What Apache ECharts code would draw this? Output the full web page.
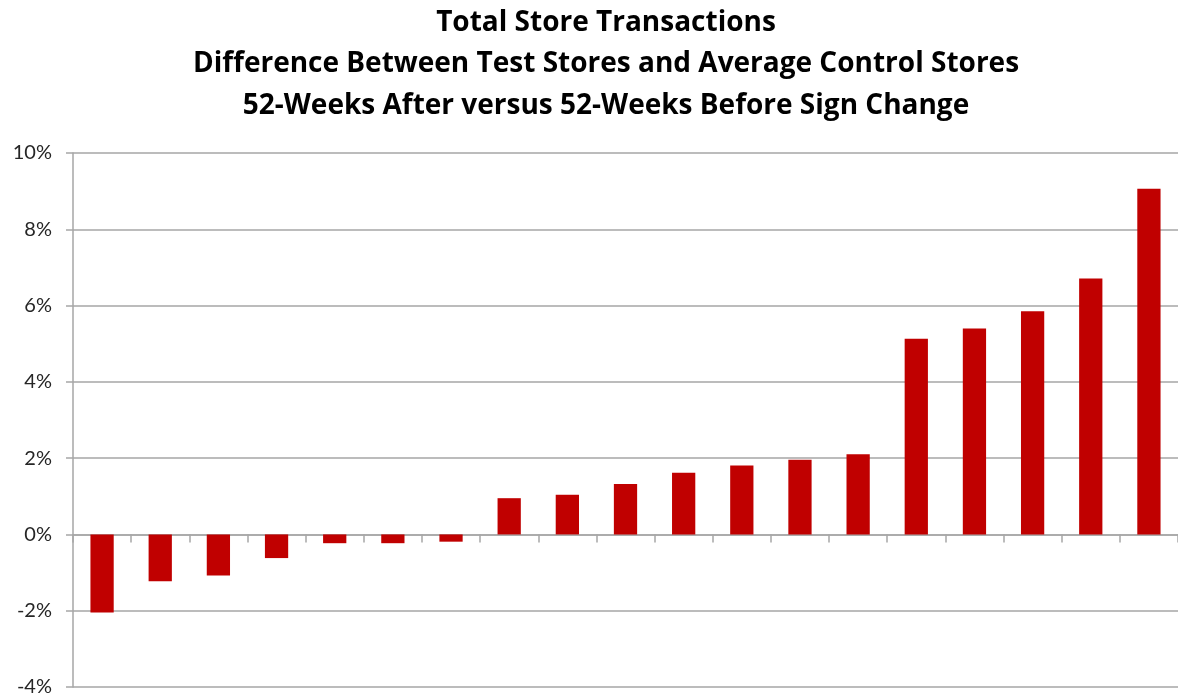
<!DOCTYPE html>
<html>
<head>
<meta charset="utf-8">
<title>Total Store Transactions</title>
<script src="https://cdn.jsdelivr.net/npm/echarts@6/dist/echarts.min.js"></script>
<style>
    html, body { margin: 0; padding: 0; background: #fff; }
    #chart { width: 1178px; height: 700px; }
</style>
</head>
<body>
<div id="chart"></div>
<script>
"use strict";

// one bar per test store, sorted low to high (percent)
var stores = ['1','2','3','4','5','6','7','8','9','10','11','12','13','14','15','16','17','18','19'];
var diffPct = [-2.05, -1.23, -1.08, -0.62, -0.23, -0.23, -0.19, 0.95, 1.04, 1.32, 1.62, 1.81, 1.96, 2.10, 5.13, 5.40, 5.85, 6.71, 9.06];
var titleLines = [
    'Total Store Transactions',
    'Difference Between Test Stores and Average Control Stores',
    '52-Weeks After versus 52-Weeks Before Sign Change'
];

var chart = echarts.init(document.getElementById('chart'));

var option = {
    backgroundColor: '#fff',
    animation: false,
    title: {
        text: titleLines.join('\n'),
        left: 601,
        top: -3,
        textAlign: 'center',
        textStyle: {
            fontFamily: 'Open Sans',
            fontWeight: 'bold',
            fontSize: 28,
            lineHeight: 41.5,
            color: '#000'
        }
    },
    grid: {
        left: 73,
        right: -3,
        top: 153,
        bottom: 13
    },
    xAxis: {
        type: 'category',
        data: stores,
        axisLine: { onZero: true, lineStyle: { color: '#a6a6a6', width: 1.5 } },
        axisTick: { show: true, length: 8, inside: false, lineStyle: { color: '#a6a6a6', width: 1.5 } },
        axisLabel: { show: false },
        splitLine: { show: false }
    },
    yAxis: {
        type: 'value',
        min: -4,
        max: 10,
        interval: 2,
        axisLine: { show: true, lineStyle: { color: '#a6a6a6', width: 1.5 } },
        axisTick: { show: true, length: 7, lineStyle: { color: '#a6a6a6', width: 1.5 } },
        axisLabel: {
            formatter: '{value}%',
            fontFamily: 'Lato',
            fontSize: 20,
            color: '#262626',
            margin: 21
        },
        splitLine: { lineStyle: { color: '#a6a6a6', width: 1.5 } }
    },
    series: [
        {
            name: 'Difference',
            type: 'bar',
            data: diffPct,
            barWidth: '40%',
            itemStyle: { color: '#c00000' }
        }
    ]
};

chart.setOption(option);
</script>
</body>
</html>
